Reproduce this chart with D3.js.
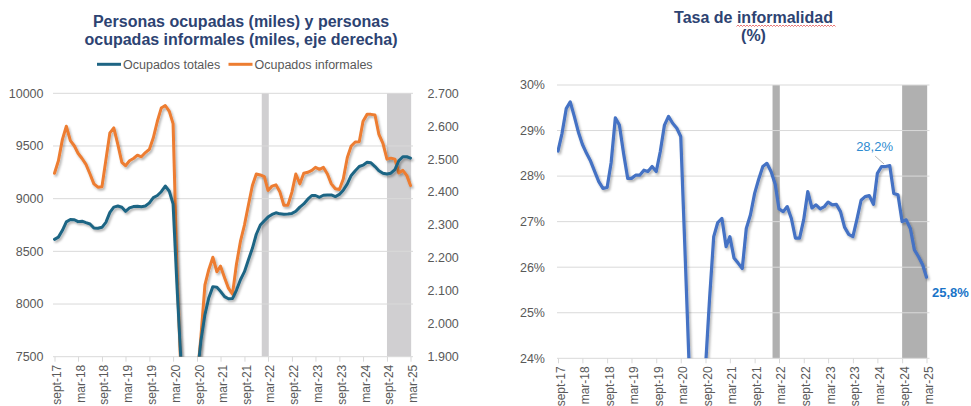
<!DOCTYPE html>
<html>
<head>
<meta charset="utf-8">
<script src="https://cdn.jsdelivr.net/npm/d3@7/dist/d3.min.js"></script>
<style>
  body { margin: 0; background: #fff; }
  svg { display: block; }
  text { font-family: "Liberation Sans", Arial, sans-serif; }
</style>
</head>
<body>
<svg id="chart" width="971" height="406"></svg>
<script>
// monthly series, sept-17 .. mar-25 (91 points)
const startMonth = new Date(2017, 8, 1)

const ocupadosTotales = [
  8614, 8635, 8700, 8780, 8802, 8800, 8782, 8786, 8772, 8760,
  8722, 8719, 8728, 8775, 8870, 8920, 8930, 8918, 8880, 8912,
  8925, 8928, 8924, 8930, 8960, 9010, 9030, 9066, 9120, 9070,
  8950, 8150, 7450, 6500, 6400, 6700, 7300, 7650, 7900, 8060,
  8165, 8160, 8120, 8070, 8050, 8052, 8130, 8230, 8307, 8418,
  8529, 8662, 8750, 8790, 8825, 8850, 8866, 8856, 8852, 8854,
  8860, 8880, 8920, 8950, 8995, 9030, 9030, 9013, 9032, 9035,
  9035, 9020, 9040, 9080, 9140, 9220, 9265, 9305, 9318, 9345,
  9340, 9305, 9265, 9242, 9234, 9242, 9275, 9360, 9398, 9398,
  9385
]

const ocupadosInformales = [
  2457, 2495, 2560, 2600, 2556, 2540, 2518, 2502, 2484, 2455,
  2425, 2415, 2416, 2497, 2580, 2595, 2545, 2490, 2480, 2495,
  2502, 2512, 2507, 2520, 2530, 2565, 2615, 2655, 2663, 2645,
  2608, 2150, 1850, 1600, 1550, 1650, 1830, 1960, 2118, 2165,
  2202, 2158, 2175, 2140, 2108, 2090, 2180, 2250, 2300, 2360,
  2420, 2455, 2452, 2447, 2405, 2418, 2422, 2400, 2360, 2360,
  2400, 2455, 2425, 2457, 2460, 2466, 2475, 2469, 2475, 2455,
  2425, 2410, 2408, 2440, 2505, 2540, 2552, 2553, 2615, 2636,
  2636, 2634, 2575, 2548, 2500, 2503, 2500, 2458, 2466, 2450,
  2420
]

const tasaInformalidad = [
  28.55, 28.94, 29.48, 29.63, 29.30, 28.95, 28.70, 28.50, 28.33, 28.10,
  27.88, 27.73, 27.75, 28.30, 29.28, 29.12, 28.50, 27.95, 27.95, 28.02,
  28.02, 28.13, 28.10, 28.21, 28.10, 28.54, 29.12, 29.31, 29.16, 29.05,
  28.87, 26.40, 23.95, 22.50, 22.20, 22.80, 23.80, 25.30, 26.67, 26.98,
  27.07, 26.45, 26.67, 26.20, 26.09, 25.97, 26.85, 27.15, 27.62, 27.93,
  28.21, 28.28, 28.10, 27.82, 27.28, 27.22, 27.33, 27.07, 26.64, 26.64,
  27.05, 27.66, 27.30, 27.37, 27.28, 27.33, 27.43, 27.37, 27.38, 27.22,
  26.88, 26.72, 26.67, 27.05, 27.47, 27.55, 27.57, 27.38, 28.06, 28.21,
  28.21, 28.23, 27.62, 27.59, 27.00, 27.04, 26.85, 26.38, 26.23, 26.05,
  25.78
]

const xTickLabels = ["sept-17", "mar-18", "sept-18", "mar-19", "sept-19", "mar-20",
  "sept-20", "mar-21", "sept-21", "mar-22", "sept-22", "mar-23", "sept-23",
  "mar-24", "sept-24", "mar-25"]

// shaded periods
const bandStarts = [new Date(2022, 0, 12), new Date(2024, 8, 1)]
const bandEnds = [new Date(2022, 2, 7), new Date(2025, 2, 6)]

const leftTicks = [7500, 8000, 8500, 9000, 9500, 10000]
const rightTicks = [1900, 2000, 2100, 2200, 2300, 2400, 2500, 2600, 2700]
const tasaTicks = [24, 25, 26, 27, 28, 29, 30]

const months = ocupadosTotales.map((d, i) => d3.timeMonth.offset(startMonth, i))
const tickDates = xTickLabels.map((d, i) => d3.timeMonth.offset(startMonth, i * 6))
const endMonth = months[months.length - 1]

const es = d3.formatLocale({ decimal: ",", thousands: ".", grouping: [3], currency: ["$", ""] })
const fmtMiles = es.format(",.3~f")
const fmtThousandsDot = es.format(",")

const svg = d3.select("#chart")
const defs = svg.append("defs")
defs.append("filter").attr("id", "shadow")
    .attr("x", "-5%").attr("y", "-5%").attr("width", "110%").attr("height", "110%")
  .append("feDropShadow")
    .attr("dx", 1.5).attr("dy", 2).attr("stdDeviation", 1.2)
    .attr("flood-color", "#000").attr("flood-opacity", 0.3)

const gridColor = "#d9d9d9"
const labelColor = "#595959"
const titleColor = "#2d4372"

function drawXAxis(g, x, y0, x0, x1) {
    var axis = g.append("g")
        .attr("transform", "translate(0," + y0 + ")")
        .call(d3.axisBottom(x).tickValues(tickDates)
            .tickFormat((d, i) => xTickLabels[i]).tickSize(5).tickSizeOuter(0))
    axis.select(".domain").remove()
    axis.selectAll(".tick line").attr("stroke", gridColor)
    axis.selectAll(".tick text")
        .attr("transform", "rotate(-90)")
        .attr("text-anchor", "end")
        .attr("x", -8).attr("y", 0).attr("dy", "0.5em")
        .attr("fill", labelColor)
        .style("font-size", "12px")
        .style("font-family", '"Liberation Sans", Arial, sans-serif')
    g.append("line")
        .attr("x1", x0).attr("x2", x1).attr("y1", y0).attr("y2", y0)
        .attr("stroke", gridColor)
}

// ---------------- left chart ----------------
{
    const top = 93.3, bottom = 356.7, gx0 = 53, gx1 = 413
    const x = d3.scaleTime().domain([startMonth, endMonth]).range([54.5, 410.5])
    const yL = d3.scaleLinear().domain([7500, 10000]).range([bottom, top])
    const yR = d3.scaleLinear().domain([1900, 2700]).range([bottom, top])
    const g = svg.append("g")

    g.selectAll(".band").data(bandStarts).enter().append("rect")
        .attr("x", d => x(d))
        .attr("width", (d, i) => x(bandEnds[i]) - x(d))
        .attr("y", top).attr("height", bottom - top)
        .attr("fill", "#d0cfd1")

    g.selectAll(".grid").data(leftTicks.slice(1)).enter().append("line")
        .attr("x1", gx0).attr("x2", gx1)
        .attr("y1", d => yL(d)).attr("y2", d => yL(d))
        .attr("stroke", gridColor)

    drawXAxis(g, x, bottom, gx0, gx1)

    g.selectAll(".yl").data(leftTicks).enter().append("text")
        .attr("x", 43.5).attr("y", d => yL(d)).attr("dy", "0.35em")
        .attr("text-anchor", "end").attr("fill", labelColor)
        .style("font-size", "12.5px").text(d => d)

    g.selectAll(".yr").data(rightTicks).enter().append("text")
        .attr("x", 427.5).attr("y", d => yR(d)).attr("dy", "0.35em")
        .attr("fill", labelColor)
        .style("font-size", "12.5px").text(d => fmtThousandsDot(d))

    defs.append("clipPath").attr("id", "clipL").append("rect")
        .attr("x", gx0).attr("y", top - 10).attr("width", gx1 - gx0 + 5).attr("height", bottom - top + 10)

    const lines = g.append("g").attr("clip-path", "url(#clipL)")
    lines.append("path")
        .datum(ocupadosInformales)
        .attr("fill", "none").attr("stroke", "#ed7d31").attr("stroke-width", 3)
        .attr("stroke-linejoin", "round").attr("stroke-linecap", "round")
        .attr("filter", "url(#shadow)")
        .attr("d", d3.line().x((d, i) => x(months[i])).y(d => yR(d)))
    lines.append("path")
        .datum(ocupadosTotales)
        .attr("fill", "none").attr("stroke", "#1e6584").attr("stroke-width", 3)
        .attr("stroke-linejoin", "round").attr("stroke-linecap", "round")
        .attr("filter", "url(#shadow)")
        .attr("d", d3.line().x((d, i) => x(months[i])).y(d => yL(d)))

    // title
    const t = g.append("text").attr("x", 241).attr("text-anchor", "middle")
        .attr("fill", titleColor).style("font-size", "16px").style("font-weight", "bold")
    t.append("tspan").attr("x", 241).attr("y", 26.5).text("Personas ocupadas (miles) y personas")
    t.append("tspan").attr("x", 241).attr("y", 44.5).text("ocupadas informales (miles, eje derecha)")

    // legend
    const legend = [["Ocupados totales", "#1e6584", 97], ["Ocupados informales", "#ed7d31", 228.5]]
    legend.forEach(function (l) {
        g.append("line").attr("x1", l[2]).attr("x2", l[2] + 24).attr("y1", 64.3).attr("y2", 64.3)
            .attr("stroke", l[1]).attr("stroke-width", 3)
        g.append("text").attr("x", l[2] + 26).attr("y", 64.3).attr("dy", "0.35em")
            .attr("fill", labelColor).style("font-size", "12.5px").text(l[0])
    })
}

// ---------------- right chart ----------------
{
    const top = 85, bottom = 358.3, gx0 = 557, gx1 = 929.5
    const x = d3.scaleTime().domain([startMonth, endMonth]).range([558, 926.5])
    const y = d3.scaleLinear().domain([24, 30]).range([bottom, top])
    const g = svg.append("g")

    g.selectAll(".band").data(bandStarts).enter().append("rect")
        .attr("x", d => x(d))
        .attr("width", (d, i) => x(bandEnds[i]) - x(d))
        .attr("y", top).attr("height", bottom - top)
        .attr("fill", "#b0b0b0")

    g.selectAll(".grid").data(tasaTicks.slice(1)).enter().append("line")
        .attr("x1", gx0).attr("x2", gx1)
        .attr("y1", d => y(d)).attr("y2", d => y(d))
        .attr("stroke", gridColor)

    drawXAxis(g, x, bottom, gx0, gx1)

    g.selectAll(".yl").data(tasaTicks).enter().append("text")
        .attr("x", 545).attr("y", d => y(d)).attr("dy", "0.35em")
        .attr("text-anchor", "end").attr("fill", labelColor)
        .style("font-size", "12.5px").text(d => d + "%")

    defs.append("clipPath").attr("id", "clipR").append("rect")
        .attr("x", gx0).attr("y", top - 10).attr("width", gx1 - gx0 + 6).attr("height", bottom - top + 10)

    g.append("g").attr("clip-path", "url(#clipR)").append("path")
        .datum(tasaInformalidad)
        .attr("fill", "none").attr("stroke", "#4472c4").attr("stroke-width", 3.2)
        .attr("stroke-linejoin", "round").attr("stroke-linecap", "round")
        .attr("filter", "url(#shadow)")
        .attr("d", d3.line().x((d, i) => x(months[i])).y(d => y(d)))

    // data labels
    const pk = 80, last = tasaInformalidad.length - 1
    const px = x(months[pk]), py = y(tasaInformalidad[pk])
    g.append("line").attr("x1", px - 10.5).attr("y1", py - 10.5).attr("x2", px - 1.5).attr("y2", py - 2.5)
        .attr("stroke", "#a6a6a6").attr("stroke-width", 0.8)
    g.append("text").attr("x", px - 11).attr("y", py - 15.5).attr("text-anchor", "middle")
        .attr("fill", "#2e8bd0").style("font-size", "13px")
        .text(es.format(".1f")(tasaInformalidad[pk]) + "%")
    g.append("text").attr("x", x(months[last]) + 5.5).attr("y", y(tasaInformalidad[last]) + 19.5)
        .attr("fill", "#1a74c8").style("font-size", "13px").style("font-weight", "bold")
        .text(es.format(".1f")(tasaInformalidad[last]) + "%")

    // title
    const t = g.append("text").attr("text-anchor", "middle")
        .attr("fill", titleColor).style("font-size", "16px").style("font-weight", "bold")
    t.append("tspan").attr("x", 753.5).attr("y", 23).text("Tasa de informalidad")
    t.append("tspan").attr("x", 753.5).attr("y", 41).text("(%)")

    // spell-check squiggle under "informalidad"
    var sq = "M736.5,26.5"
    for (var k = 736.5; k < 833; k += 3) {
        sq += "L" + (k + 1.5) + ",25" + "L" + (k + 3) + ",26.5"
    }
    g.append("path").attr("d", sq).attr("fill", "none").attr("stroke", "#e04040").attr("stroke-width", 0.7)
}
</script>
</body>
</html>
